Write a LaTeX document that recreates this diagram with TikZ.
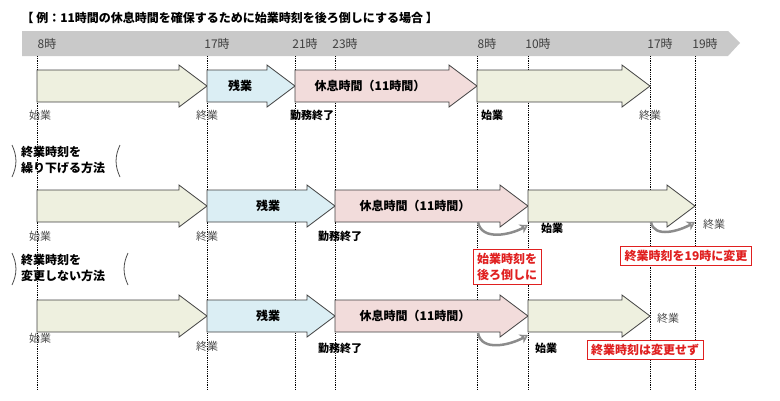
\documentclass[tikz,border=0pt]{standalone}
\usepackage{fontspec}
\setmainfont{Noto Sans CJK JP}
\usetikzlibrary{positioning,arrows.meta}
\definecolor{workgreen}{HTML}{EEF0DF}
\definecolor{overcyan}{HTML}{DBEEF4}
\definecolor{restpink}{HTML}{F2DCDB}
\definecolor{bandgrey}{HTML}{C9C9C9}
\definecolor{warnred}{HTML}{E02020}
% block arrow: start x, end x, top y, fill
\newcommand{\blockarrow}[4]{%
  \fill[#4,draw=black!75,thick] (#1,#3) -- (#2-28,#3) -- (#2-28,#3-5) -- (#2,#3+16)
    -- (#2-28,#3+37) -- (#2-28,#3+32) -- (#1,#3+32) -- cycle;}
\tikzset{
  lbl/.style={font=\fontsize{11}{12}\selectfont,text=black!70},
  blbl/.style={font=\bfseries\fontsize{11}{12}\selectfont},
  inlbl/.style={font=\bfseries\fontsize{12}{13}\selectfont},
  warn/.style={draw=warnred,thick,fill=white,text=warnred,font=\bfseries\fontsize{12}{16}\selectfont,align=center,inner sep=4pt},
  moveto/.style={draw=black!45,line width=2.5pt,-{Stealth[open,length=8pt,width=10pt]}},
  grid/.style={densely dotted,thick}
}
\begin{document}
\begin{tikzpicture}[x=1pt,y=-1pt]
\useasboundingbox (0,0) rectangle (780,400);
% Titel und Zeitleiste
\node[anchor=west,font=\bfseries\fontsize{12}{13}\selectfont] (title) at (18,18) {【 例：11時間の休息時間を確保するために始業時刻を後ろ倒しにする場合 】};
\fill[bandgrey] (22,31) -- (728,31) -- (740,43) -- (728,56) -- (22,56) -- cycle;
\foreach \x/\t in {37/8時,207/17時,295/21時,335/23時,477/8時,528/10時,650/17時,695/19時}{
  \node[font=\fontsize{12}{13}\selectfont,text=black!75] at (\x+10,44) {\t};
  \draw[grid] (\x,56) -- (\x,390);
}
% Zeile 1
\blockarrow{37}{207}{70}{workgreen}
\blockarrow{207}{295}{70}{overcyan}
\blockarrow{295}{477}{70}{restpink}
\blockarrow{477}{650}{70}{workgreen}
\node[inlbl] (r1a) at (240,86) {残業};
\node[inlbl] (r1b) at (370,86) {休息時間（11時間）};
\node[lbl] (r1s) at (40,115) {始業};
\node[lbl] (r1e) at (207,115) {終業};
\node[blbl] (r1f) at (312,115) {勤務終了};
\node[blbl] (r1n) at (492,115) {始業};
\node[lbl] (r1m) at (650,115) {終業};
% Methode 1
\node[font=\bfseries\fontsize{12}{16}\selectfont,align=left] (m1) at (63,160) {終業時刻を\\繰り下げる方法};
\draw[thick,black!70] (12,145) to[bend left=25] (12,177);
\draw[thick,black!70] (120,145) to[bend right=25] (120,177);
% Zeile 2
\blockarrow{37}{207}{190}{workgreen}
\blockarrow{207}{335}{190}{overcyan}
\blockarrow{335}{528}{190}{restpink}
\blockarrow{528}{695}{190}{workgreen}
\node[inlbl] (r2a) at (268,206) {残業};
\node[inlbl] (r2b) at (415,206) {休息時間（11時間）};
\node[lbl] (r2s) at (40,236) {始業};
\node[lbl] (r2e) at (207,236) {終業};
\node[blbl] (r2f) at (340,236) {勤務終了};
\node[blbl] (r2n) at (552,228) {始業};
\node[lbl] (r2m) at (714,224) {終業};
\coordinate (c2a) at (478,222); \coordinate (c2b) at (528,225);
\coordinate (c2c) at (651,222); \coordinate (c2d) at (695,222);
\draw[moveto] (c2a) to[out=-80,in=-150] (c2b);
\draw[moveto] (c2c) to[out=-80,in=-150] (c2d);
\node[warn] (w1) at (507,267) {始業時刻を\\後ろ倒しに};
\node[warn] (w2) at (686,256) {終業時刻を19時に変更};
% Methode 2
\node[font=\bfseries\fontsize{12}{16}\selectfont,align=left] (m2) at (63,268) {終業時刻を\\変更しない方法};
\draw[thick,black!70] (12,253) to[bend left=25] (12,285);
\draw[thick,black!70] (128,253) to[bend right=25] (128,285);
% Zeile 3
\blockarrow{37}{207}{300}{workgreen}
\blockarrow{207}{335}{300}{overcyan}
\blockarrow{335}{528}{300}{restpink}
\blockarrow{528}{650}{300}{workgreen}
\node[inlbl] (r3a) at (268,316) {残業};
\node[inlbl] (r3b) at (415,316) {休息時間（11時間）};
\node[lbl] (r3s) at (40,338) {始業};
\node[lbl] (r3e) at (207,346) {終業};
\node[blbl] (r3f) at (340,348) {勤務終了};
\node[blbl] (r3n) at (546,348) {始業};
\node[lbl] (r3m) at (668,318) {終業};
\coordinate (c3a) at (478,333); \coordinate (c3b) at (528,335);
\draw[moveto] (c3a) to[out=-80,in=-150] (c3b);
\node[warn] (w3) at (645,350) {終業時刻は変更せず};
\end{tikzpicture}
\end{document}
